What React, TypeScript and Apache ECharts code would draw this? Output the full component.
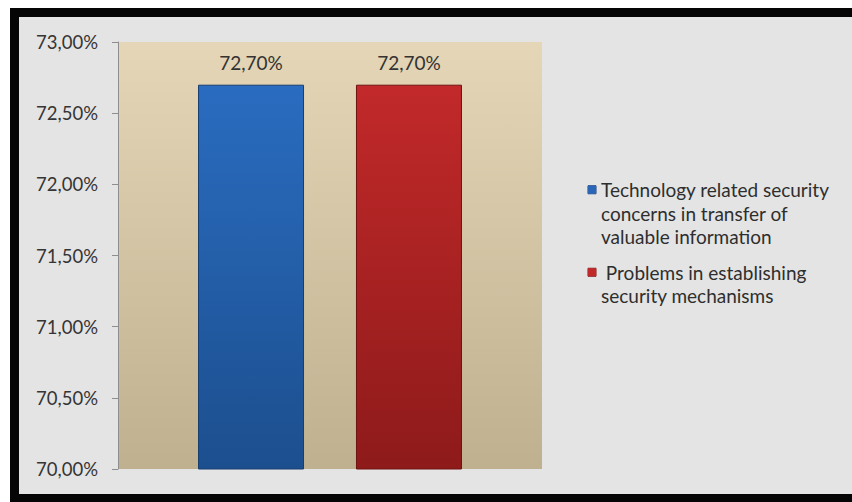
import React, { useEffect, useRef } from "react";
import * as echarts from "echarts";

const categories: string[] = [""];
const seriesNames: string[] = [
  "Technology related security concerns in transfer of valuable information",
  "Problems in establishing security mechanisms",
];
const techValues: number[] = [72.7];
const problemValues: number[] = [72.7];
const yTicks: number[] = [70, 70.5, 71, 71.5, 72, 72.5, 73];

const fmt = (v: number) => v.toFixed(2).replace(".", ",") + "%";

export default function App() {
  const ref = useRef<HTMLDivElement>(null);
  useEffect(() => {
    if (!ref.current) return;
    const chart = echarts.init(ref.current, null, { renderer: "svg" });
    const font = "Lato";
    const option: any = {
      animation: false,
      backgroundColor: "#ffffff",
      textStyle: { fontFamily: font },
      graphic: [
        { type: "rect", z: -20, shape: { x: 10, y: 8, width: 842, height: 494 }, style: { fill: "#050505" }, silent: true },
        { type: "rect", z: -19, shape: { x: 19, y: 17, width: 833, height: 477 }, style: { fill: "#e4e4e4" }, silent: true },
      ],
      grid: {
        left: 118,
        right: 310,
        top: 42,
        bottom: 33,
        show: true,
        borderWidth: 0,
        backgroundColor: new echarts.graphic.LinearGradient(0, 0, 0, 1, [
          { offset: 0, color: "#e4d6b6" },
          { offset: 1, color: "#bfb190" },
        ]),
      },
      legend: {
        orient: "vertical",
        left: 578,
        top: 173,
        icon: "none",
        itemWidth: 0,
        itemHeight: 8,
        itemGap: 12,
        selectedMode: false,
        data: seriesNames,
        formatter: (name: string) =>
          name === seriesNames[0]
            ? "{b|}{s|}Technology related security\n{i|}concerns in transfer of\n{i|}valuable information"
            : "{r|}{s|} Problems in establishing\n{i|}security mechanisms",
        textStyle: {
          fontFamily: font,
          fontSize: 19,
          color: "#2e2e2e",
          lineHeight: 23.5,
          rich: {
            b: { width: 8, height: 8, backgroundColor: "#2a66b8", borderColor: "#1a3f78", borderWidth: 0.5 },
            r: { width: 8, height: 8, backgroundColor: "#c0282a", borderColor: "#7a1414", borderWidth: 0.5 },
            s: { width: 5 },
            i: { width: 13 },
          },
        },
      },
      xAxis: {
        type: "category",
        data: categories,
        axisLine: { show: false },
        axisTick: { show: false },
        axisLabel: { show: false },
        splitLine: { show: false },
      },
      yAxis: {
        type: "value",
        min: yTicks[0],
        max: yTicks[yTicks.length - 1],
        interval: 0.5,
        splitLine: { show: false },
        axisLine: { show: true, lineStyle: { color: "#8e8e8e", width: 1 } },
        axisTick: { show: true, length: 6, lineStyle: { color: "#8e8e8e" } },
        axisLabel: {
          formatter: (v: number) => fmt(v),
          fontFamily: font,
          fontSize: 18.5,
          color: "#353535",
          margin: 20,
        },
      },
      series: [
        {
          name: seriesNames[0],
          type: "bar",
          data: techValues,
          barWidth: 106,
          barGap: "49%",
          itemStyle: {
            color: new echarts.graphic.LinearGradient(0, 0, 0, 1, [
              { offset: 0, color: "#2a6cc0" },
              { offset: 1, color: "#1c4f8e" },
            ]),
            borderColor: "#173e70",
            borderWidth: 1,
          },
          label: {
            show: true,
            position: "top",
            distance: 13,
            formatter: (p: any) => fmt(p.value),
            fontFamily: font,
            fontSize: 19,
            color: "#333333",
          },
        },
        {
          name: seriesNames[1],
          type: "bar",
          data: problemValues,
          barWidth: 106,
          itemStyle: {
            color: new echarts.graphic.LinearGradient(0, 0, 0, 1, [
              { offset: 0, color: "#c2292a" },
              { offset: 1, color: "#8e1a1a" },
            ]),
            borderColor: "#6e1212",
            borderWidth: 1,
          },
          label: {
            show: true,
            position: "top",
            distance: 13,
            formatter: (p: any) => fmt(p.value),
            fontFamily: font,
            fontSize: 19,
            color: "#333333",
          },
        },
      ],
    };
    chart.setOption(option);
    return () => chart.dispose();
  }, []);
  return (
    <div
      ref={ref}
      style={{ position: "fixed", left: 0, top: 0, width: 852, height: 502 }}
    />
  );
}
